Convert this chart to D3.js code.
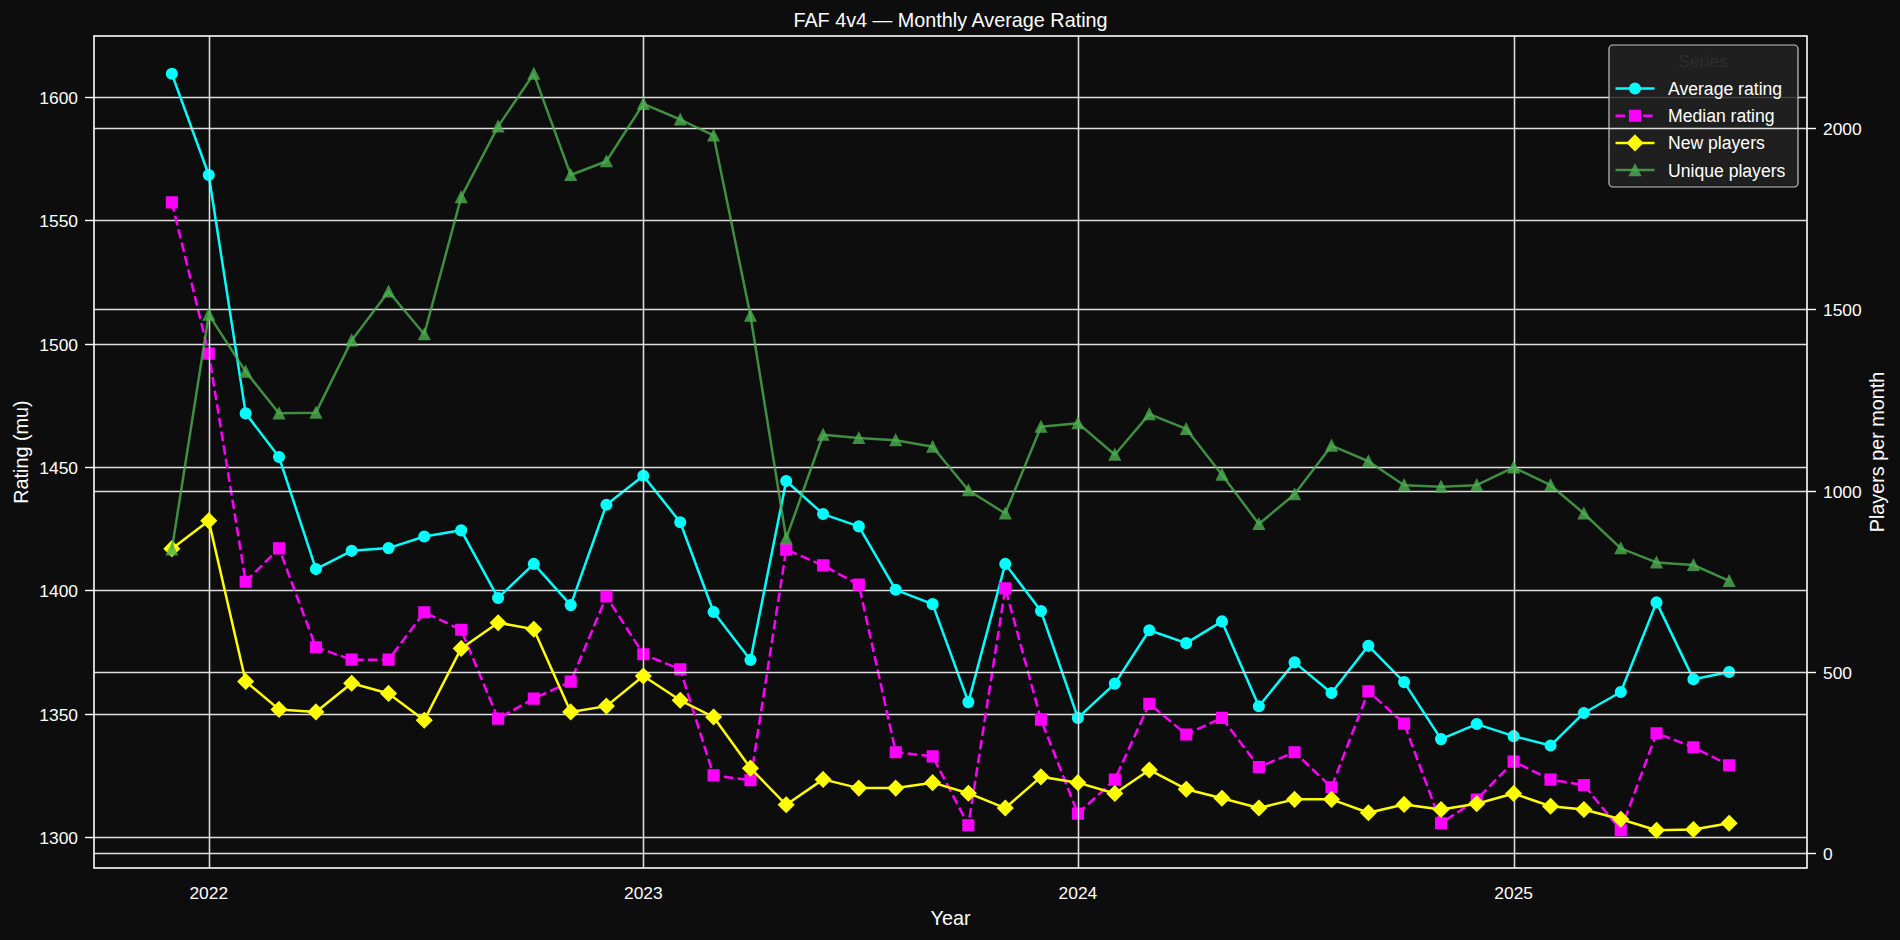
<!DOCTYPE html>
<html>
<head>
<meta charset="utf-8">
<script src="https://cdnjs.cloudflare.com/ajax/libs/d3/7.8.5/d3.min.js"></script>
<style>
    html, body { margin: 0; padding: 0; background: #0d0d0d; }
    svg text { font-family: "Liberation Sans", Arial, sans-serif; fill: #ffffff; }
</style>
</head>
<body>
<div id="chart" style="width:1900px;height:940px;"></div>
<script>
// monthly data
var months = ['2021-12','2022-01','2022-02','2022-03','2022-04','2022-05','2022-06','2022-07','2022-08','2022-09','2022-10','2022-11',
    '2022-12','2023-01','2023-02','2023-03','2023-04','2023-05','2023-06','2023-07','2023-08','2023-09','2023-10','2023-11',
    '2023-12','2024-01','2024-02','2024-03','2024-04','2024-05','2024-06','2024-07','2024-08','2024-09','2024-10','2024-11',
    '2024-12','2025-01','2025-02','2025-03','2025-04','2025-05','2025-06','2025-07'];

var avgRating = [1609.3, 1568.3, 1471.7, 1454.0, 1408.6, 1416.0, 1417.1, 1421.8, 1424.3, 1396.9, 1410.7, 1394.0,
    1434.7, 1446.4, 1427.6, 1391.2, 1371.8, 1444.3, 1430.9, 1425.9, 1400.2, 1394.4, 1354.7, 1410.7,
    1391.6, 1348.3, 1362.2, 1383.8, 1378.6, 1387.4, 1353.0, 1370.8, 1358.4, 1377.5, 1362.8, 1339.7,
    1345.8, 1340.9, 1337.1, 1350.3, 1358.8, 1395.1, 1364.0, 1366.9];

var medianRating = [1557.2, 1495.9, 1403.5, 1417.0, 1376.9, 1371.9, 1371.9, 1391.1, 1384.0, 1348.0, 1356.1, 1363.0,
    1397.5, 1374.1, 1368.0, 1325.0, 1323.1, 1416.5, 1410.1, 1402.3, 1334.4, 1332.7, 1304.8, 1400.8,
    1347.6, 1309.5, 1323.3, 1354.0, 1341.6, 1348.3, 1328.4, 1334.4, 1320.2, 1359.1, 1346.0, 1305.6,
    1315.2, 1330.6, 1323.3, 1321.1, 1302.8, 1342.1, 1336.4, 1329.1];

var newPlayers = [840, 917, 474, 397, 390, 469, 441, 367, 565, 636, 618, 390,
    406, 489, 422, 376, 235, 134, 204, 180, 180, 195, 166, 125,
    211, 195, 165, 230, 177, 152, 125, 149, 149, 112, 135, 121,
    137, 165, 130, 121, 94, 64, 66, 83];

var uniquePlayers = [838, 1485, 1328, 1213, 1215, 1414, 1549, 1431, 1809, 2004, 2149, 1870,
    1908, 2066, 2023, 1979, 1482, 868, 1154, 1145, 1139, 1121, 1001, 937,
    1176, 1186, 1099, 1211, 1170, 1044, 908, 990, 1124, 1081, 1015, 1011,
    1015, 1064, 1015, 937, 841, 802, 795, 751];

var ratingTicks = [1300, 1350, 1400, 1450, 1500, 1550, 1600];
var playerTicks = [0, 500, 1000, 1500, 2000];
var yearTicks = ['2022', '2023', '2024', '2025'];

var seriesNames = ['Average rating', 'Median rating', 'New players', 'Unique players'];

var W = 1900, H = 940;
var L = 94, R = 1807, T = 36, B = 868;

var parseMonth = d3.timeParse('%Y-%m');
var parseYear = d3.timeParse('%Y');
var dates = months.map(parseMonth);

function padded(lo, hi){
    var span = hi - lo;
    return [lo - span * 0.05, hi + span * 0.05];
}

var t0 = dates[0].getTime(), t1 = dates[dates.length - 1].getTime();
var xd = padded(t0, t1);
var x = d3.scaleTime().domain([new Date(xd[0]), new Date(xd[1])]).range([L, R]);

var ratingAll = avgRating.concat(medianRating);
var y1 = d3.scaleLinear().domain(padded(d3.min(ratingAll), d3.max(ratingAll))).range([B, T]);
var playerAll = newPlayers.concat(uniquePlayers);
var y2 = d3.scaleLinear().domain(padded(d3.min(playerAll), d3.max(playerAll))).range([B, T]);

var svg = d3.select('#chart').append('svg').attr('width', W).attr('height', H);
svg.append('rect').attr('width', W).attr('height', H).attr('fill', '#0d0d0d');

var clipId = 'plotclip';
svg.append('clipPath').attr('id', clipId).append('rect')
    .attr('x', L).attr('y', T).attr('width', R - L).attr('height', B - T);

function drawGrid(g, scale, ticks){
    var gg = g.append('g');
    gg.selectAll('line.h').data(ticks).enter().append('line')
        .attr('class', 'h')
        .attr('x1', L).attr('x2', R)
        .attr('y1', function(d){ return Math.round(scale(d)) + 0.5; })
        .attr('y2', function(d){ return Math.round(scale(d)) + 0.5; })
        .attr('stroke', '#dedede').attr('stroke-width', 1.3);
    gg.selectAll('line.v').data(yearTicks).enter().append('line')
        .attr('class', 'v')
        .attr('y1', T).attr('y2', B)
        .attr('x1', function(d){ return Math.round(x(parseYear(d))) + 0.5; })
        .attr('x2', function(d){ return Math.round(x(parseYear(d))) + 0.5; })
        .attr('stroke', '#dedede').attr('stroke-width', 1.3);
}

function markerPath(shape){
    if(shape === 'circle') return d3.symbol().type(d3.symbolCircle).size(Math.PI * 5.2 * 5.2)();
    if(shape === 'square') return 'M-5.2,-5.2L5.2,-5.2L5.2,5.2L-5.2,5.2Z';
    if(shape === 'diamond') return 'M0,-7.35L7.35,0L0,7.35L-7.35,0Z';
    return 'M0,-5.2L5.2,5.2L-5.2,5.2Z';
}

function drawSeries(g, values, scale, opt){
    var sg = g.append('g');
    var line = d3.line()
        .x(function(d, i){ return x(dates[i]); })
        .y(function(d){ return scale(d); });
    sg.append('path').datum(values)
        .attr('d', line)
        .attr('fill', 'none')
        .attr('stroke', opt.color)
        .attr('stroke-width', 2.5)
        .attr('stroke-linejoin', 'round')
        .attr('stroke-dasharray', opt.dash || null)
        .attr('opacity', opt.alpha || 1);
    sg.selectAll('path.mk').data(values).enter().append('path')
        .attr('class', 'mk')
        .attr('d', markerPath(opt.shape))
        .attr('transform', function(d, i){ return 'translate(' + x(dates[i]) + ',' + scale(d) + ')'; })
        .attr('fill', opt.color)
        .attr('stroke', opt.color)
        .attr('stroke-width', 1.7)
        .attr('stroke-linejoin', 'miter')
        .attr('opacity', opt.alpha || 1);
}

var styles = [
    {color: '#00ffff', shape: 'circle'},
    {color: '#ff00ff', shape: 'square', dash: '9.6,4.2'},
    {color: '#ffff00', shape: 'diamond'},
    {color: '#4caf50', shape: 'triangle', alpha: 0.8}
];

// left axes (ratings)
var ax1 = svg.append('g').attr('clip-path', 'url(#' + clipId + ')');
drawGrid(ax1, y1, ratingTicks);
drawSeries(ax1, avgRating, y1, styles[0]);
drawSeries(ax1, medianRating, y1, styles[1]);

// legend belongs to the left axes, twin axes draw above it
var lg = svg.append('g');
var lx = 1609, ly = 45, lw = 189, lh = 142;
lg.append('rect').attr('x', lx).attr('y', ly).attr('width', lw).attr('height', lh)
    .attr('rx', 4).attr('fill', '#232323').attr('fill-opacity', 0.85)
    .attr('stroke', '#c4c4c4').attr('stroke-width', 1.2);
lg.append('text').attr('x', 1703).attr('y', 67).attr('text-anchor', 'middle')
    .style('font-size', '17.4px').style('fill', '#2e2e2e').text('Series');
seriesNames.forEach(function(name, i){
    var cy = 88.5 + i * 27.2;
    var st = styles[i];
    lg.append('line').attr('x1', 1615.5).attr('x2', 1654.5).attr('y1', cy).attr('y2', cy)
        .attr('stroke', st.color).attr('stroke-width', 2.5)
        .attr('stroke-dasharray', st.dash || null).attr('opacity', st.alpha || 1);
    lg.append('path').attr('d', markerPath(st.shape))
        .attr('transform', 'translate(1635,' + cy + ')')
        .attr('fill', st.color).attr('stroke', st.color).attr('stroke-width', 1.7)
        .attr('opacity', st.alpha || 1);
    lg.append('text').attr('x', 1668).attr('y', cy + 6.5)
        .style('font-size', '17.6px').text(name);
});

// right axes (players)
var ax2 = svg.append('g').attr('clip-path', 'url(#' + clipId + ')');
drawGrid(ax2, y2, playerTicks);
drawSeries(ax2, newPlayers, y2, styles[2]);
drawSeries(ax2, uniquePlayers, y2, styles[3]);

// spines
svg.append('rect').attr('x', L).attr('y', T).attr('width', R - L).attr('height', B - T)
    .attr('fill', 'none').attr('stroke', '#ffffff').attr('stroke-width', 1.6);

// left ticks
var lt = svg.append('g');
ratingTicks.forEach(function(v){
    var yy = Math.round(y1(v)) + 0.5;
    lt.append('line').attr('x1', L - 9).attr('x2', L).attr('y1', yy).attr('y2', yy)
        .attr('stroke', '#ffffff').attr('stroke-width', 1.4);
    lt.append('text').attr('x', L - 16).attr('y', yy + 6.3).attr('text-anchor', 'end')
        .style('font-size', '17.4px').text(v);
});
// right ticks
playerTicks.forEach(function(v){
    var yy = Math.round(y2(v)) + 0.5;
    lt.append('line').attr('x1', R).attr('x2', R + 9).attr('y1', yy).attr('y2', yy)
        .attr('stroke', '#ffffff').attr('stroke-width', 1.4);
    lt.append('text').attr('x', R + 16).attr('y', yy + 6.3).attr('text-anchor', 'start')
        .style('font-size', '17.4px').text(v);
});
// year labels
yearTicks.forEach(function(yv){
    lt.append('text').attr('x', x(parseYear(yv))).attr('y', 899).attr('text-anchor', 'middle')
        .style('font-size', '17.4px').text(yv);
});

// labels and title
svg.append('text').attr('x', (L + R) / 2).attr('y', 925).attr('text-anchor', 'middle')
    .style('font-size', '19.8px').text('Year');
svg.append('text').attr('transform', 'translate(28,' + ((T + B) / 2) + ') rotate(-90)')
    .attr('text-anchor', 'middle').style('font-size', '19.8px').text('Rating (mu)');
svg.append('text').attr('transform', 'translate(1884,' + ((T + B) / 2) + ') rotate(-90)')
    .attr('text-anchor', 'middle').style('font-size', '19.8px').text('Players per month');
svg.append('text').attr('x', (L + R) / 2).attr('y', 27).attr('text-anchor', 'middle')
    .style('font-size', '19.8px').text('FAF 4v4 \u2014 Monthly Average Rating');
</script>
</body>
</html>
